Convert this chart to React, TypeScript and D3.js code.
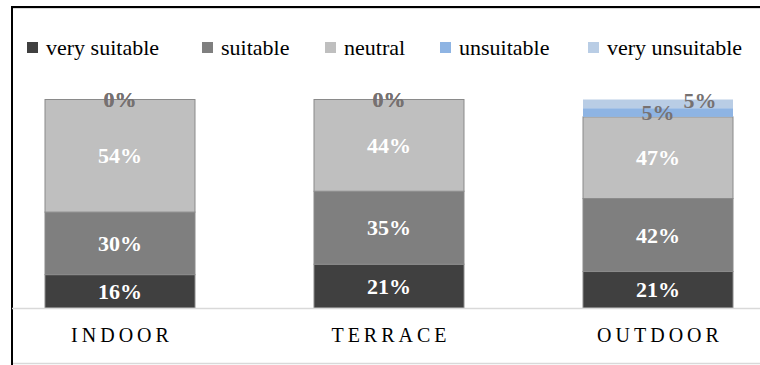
import React from "react";
import * as d3 from "d3";

// Ratings per location, in percent
const categories = ["INDOOR", "TERRACE", "OUTDOOR"];
const seriesNames = ["very suitable", "suitable", "neutral", "unsuitable", "very unsuitable"];
const verySuitable = [16, 21, 21];
const suitable = [30, 35, 42];
const neutral = [54, 44, 47];
const unsuitable = [0, 0, 5];
const veryUnsuitable = [0, 0, 5];

const W = 760;
const H = 365;
const serif = { fontFamily: "Liberation Serif" };

const fills = ["#404040", "#7f7f7f", "#bfbfbf", "#8eb4e3", "#b9cde5"];
const outlines = ["#8a8a8a", "#8a8a8a", "#8a8a8a", "none", "none"];
const labelColors = ["#ffffff", "#ffffff", "#ffffff", "#767171", "#767171"];
const legendX = [27, 202, 325, 440, 588];
// the label of the thin top OUTDOOR segment is nudged aside
const labelNudge: Record<string, [number, number]> = { "OUTDOOR|very unsuitable": [42, -4] };

export default function App() {
  const seriesValues = [verySuitable, suitable, neutral, unsuitable, veryUnsuitable];
  const rows = categories.map((c, i) => {
    const r: Record<string, any> = { cat: c };
    seriesNames.forEach((s, k) => (r[s] = seriesValues[k][i]));
    return r;
  });
  const stacked = d3.stack<any>().keys(seriesNames).offset(d3.stackOffsetExpand)(rows);

  const x = d3.scaleBand<string>().domain(categories).range([45, 733]).paddingInner(0.4424).paddingOuter(0);
  const y = d3.scaleLinear().domain([0, 1]).range([308, 99.5]);
  const bw = x.bandwidth();

  return (
    <svg width={W} height={H} style={{ position: "absolute", left: 0, top: 0, background: "#fff" }}>
      {/* frame */}
      <line x1={12} x2={W} y1={7} y2={7} stroke="#000" strokeWidth={2} />
      <line x1={12} x2={W} y1={8.5} y2={8.5} stroke="#d9d9d9" strokeWidth={1} />
      <line x1={12} x2={12} y1={6} y2={H} stroke="#000" strokeWidth={2} />
      <line x1={13} x2={W} y1={363.5} y2={363.5} stroke="#d9d9d9" strokeWidth={1.5} />

      {/* legend */}
      {seriesNames.map((s, k) => (
        <g key={s}>
          <rect x={legendX[k]} y={42} width={11} height={11} fill={fills[k]} />
          <text x={legendX[k] + 19} y={55} style={serif} fontSize={22} fill="#000">
            {s}
          </text>
        </g>
      ))}

      {/* bars */}
      {stacked.map((layer, k) => (
        <g key={layer.key}>
          {layer.map((d, i) => {
            const top = y(d[1]);
            const h = y(d[0]) - top;
            return (
              <rect
                key={i}
                x={x(categories[i])!}
                y={top}
                width={bw}
                height={h}
                fill={fills[k]}
                stroke={outlines[k]}
                strokeWidth={1}
              />
            );
          })}
        </g>
      ))}

      {/* axis line */}
      <line x1={12} x2={W} y1={308.5} y2={308.5} stroke="#d9d9d9" strokeWidth={1.5} />

      {/* data labels */}
      {stacked.map((layer, k) => (
        <g key={"l" + layer.key}>
          {layer.map((d, i) => {
            const nudge = labelNudge[categories[i] + "|" + layer.key] || [0, 0];
            const cx = x(categories[i])! + bw / 2 + nudge[0];
            const cy = (y(d[0]) + y(d[1])) / 2 + nudge[1];
            return (
              <text
                key={i}
                x={cx}
                y={cy}
                dy="0.35em"
                textAnchor="middle"
                style={serif}
                fontWeight="bold"
                fontSize={22}
                fill={labelColors[k]}
              >
                {seriesValues[k][i]}%
              </text>
            );
          })}
        </g>
      ))}

      {/* category labels */}
      {categories.map((c) => (
        <text
          key={c}
          x={x(c)! + bw / 2 + 2}
          y={342}
          textAnchor="middle"
          style={serif}
          fontSize={20}
          letterSpacing={4}
          fill="#000"
        >
          {c}
        </text>
      ))}
    </svg>
  );
}
